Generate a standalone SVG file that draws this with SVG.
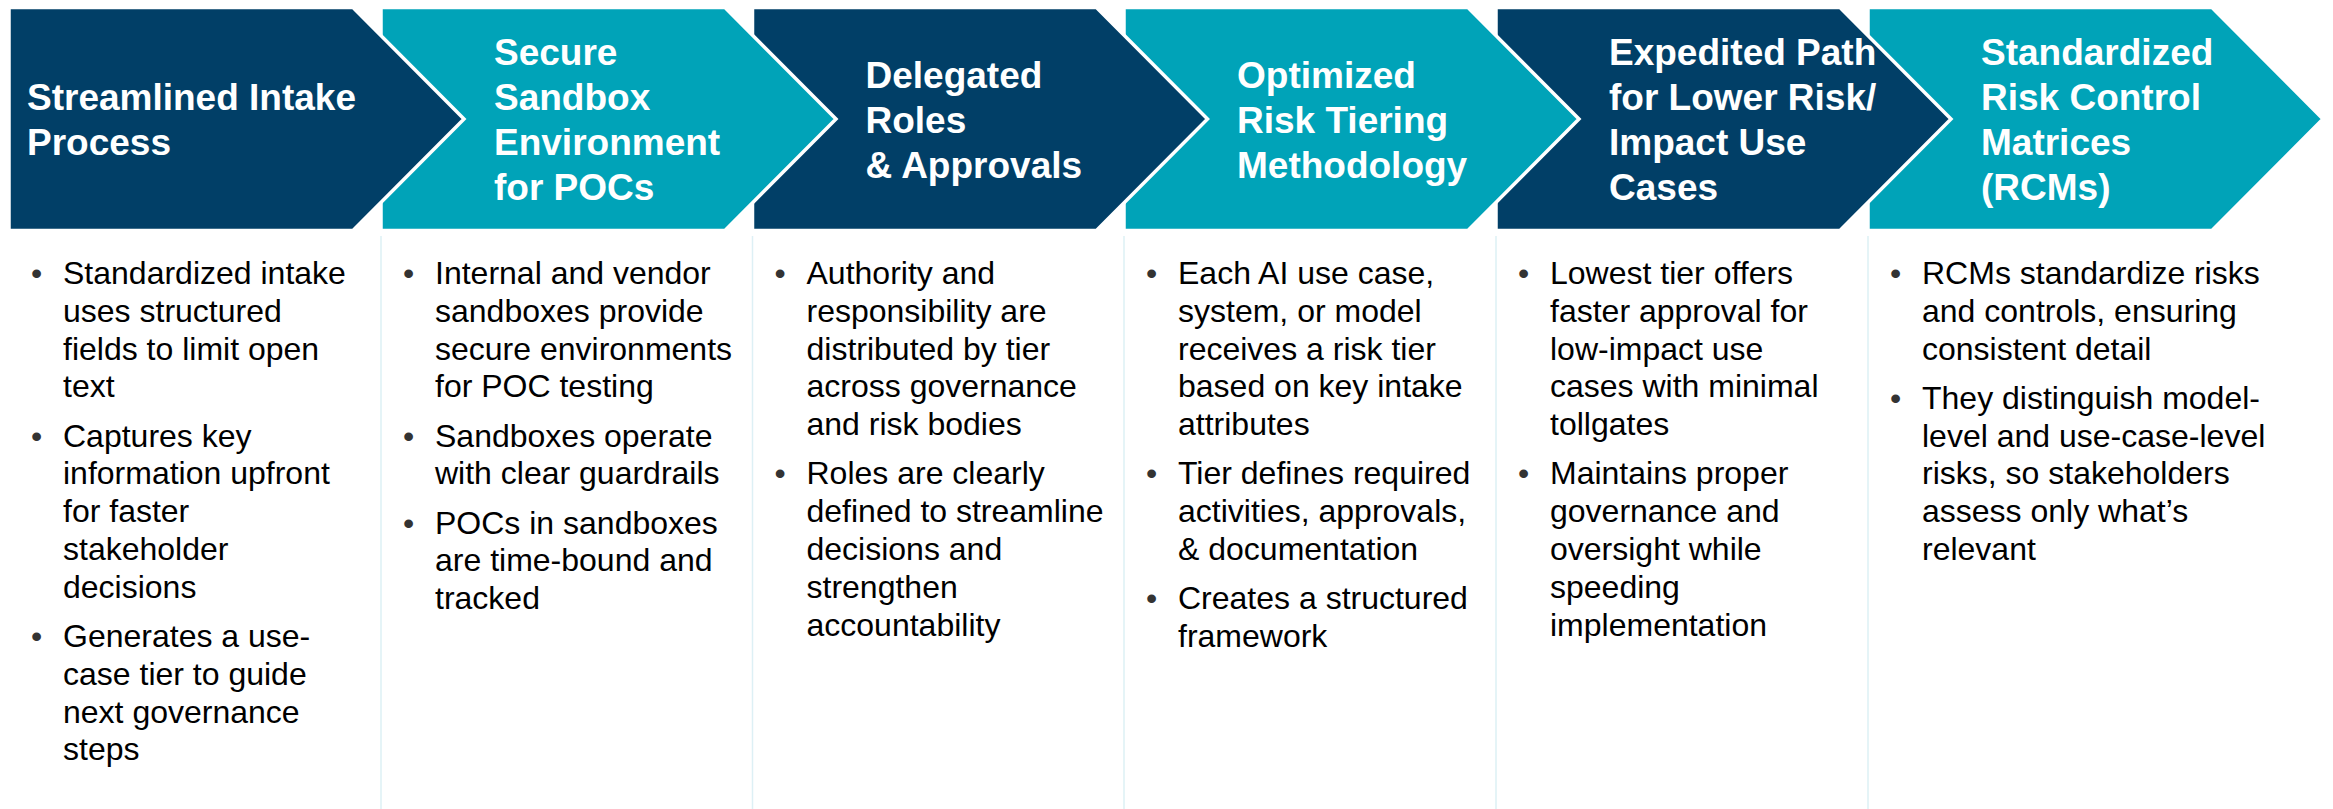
<svg xmlns="http://www.w3.org/2000/svg" width="2333" height="809" viewBox="0 0 2333 809">
  <style>
    .navy { fill: #013F67; stroke: #FFFFFF; stroke-width: 3.5; stroke-linejoin: miter; }
    .teal { fill: #00A3B8; stroke: #FFFFFF; stroke-width: 3.5; stroke-linejoin: miter; }
    .title { font-family: "Liberation Sans", Arial, sans-serif; font-weight: bold; font-size: 37px; fill: #FFFFFF; }
    .body { font-family: "Liberation Sans", Arial, sans-serif; font-size: 32px; fill: #000000; }
    .dot { font-family: "Liberation Sans", Arial, sans-serif; font-size: 32px; fill: #333333; }
    .divider { stroke: #DDF0F5; stroke-width: 1.5; fill: none; }
  </style>
  <rect width="2333" height="809" fill="#FFFFFF"/>

  <!-- column separators -->
  <g id="connectors">
    <line class="divider" x1="381" y1="236" x2="381" y2="809"/>
    <line class="divider" x1="752.5" y1="236" x2="752.5" y2="809"/>
    <line class="divider" x1="1124" y1="236" x2="1124" y2="809"/>
    <line class="divider" x1="1496" y1="236" x2="1496" y2="809"/>
    <line class="divider" x1="1868" y1="236" x2="1868" y2="809"/>
  </g>

  <!-- step arrows, painted right to left so each overlaps the next -->
  <g id="step6">
    <polygon class="teal" points="1868,7.5 2212,7.5 2323,119 2212,230.5 1868,230.5"/>
    <text class="title"><tspan x="1981" y="65">Standardized</tspan><tspan x="1981" y="110">Risk Control</tspan><tspan x="1981" y="155">Matrices</tspan><tspan x="1981" y="200">(RCMs)</tspan></text>
  </g>
  <g id="step5">
    <polygon class="navy" points="1496,7.5 1840,7.5 1951,119 1840,230.5 1496,230.5"/>
    <text class="title"><tspan x="1609" y="65">Expedited Path</tspan><tspan x="1609" y="110">for Lower Risk/</tspan><tspan x="1609" y="155">Impact Use</tspan><tspan x="1609" y="200">Cases</tspan></text>
  </g>
  <g id="step4">
    <polygon class="teal" points="1124,7.5 1468,7.5 1579,119 1468,230.5 1124,230.5"/>
    <text class="title"><tspan x="1237" y="87.5">Optimized</tspan><tspan x="1237" y="132.5">Risk Tiering</tspan><tspan x="1237" y="177.5">Methodology</tspan></text>
  </g>
  <g id="step3">
    <polygon class="navy" points="752.5,7.5 1096.5,7.5 1207.5,119 1096.5,230.5 752.5,230.5"/>
    <text class="title"><tspan x="865.5" y="87.5">Delegated</tspan><tspan x="865.5" y="132.5">Roles</tspan><tspan x="865.5" y="177.5">&amp; Approvals</tspan></text>
  </g>
  <g id="step2">
    <polygon class="teal" points="381,7.5 725,7.5 836,119 725,230.5 381,230.5"/>
    <text class="title"><tspan x="494" y="65">Secure</tspan><tspan x="494" y="110">Sandbox</tspan><tspan x="494" y="155">Environment</tspan><tspan x="494" y="200">for POCs</tspan></text>
  </g>
  <g id="step1">
    <polygon class="navy" points="9,7.5 353,7.5 464,119 353,230.5 9,230.5"/>
    <text class="title"><tspan x="27" y="110">Streamlined Intake</tspan><tspan x="27" y="155">Process</tspan></text>
  </g>

  <!-- bullet columns: 37.8px leading, 11.4px extra between items -->
  <g id="details1">
    <text class="dot"><tspan x="31" y="284">•</tspan><tspan x="31" y="446.6">•</tspan><tspan x="31" y="647">•</tspan></text>
    <text class="body">
      <tspan x="63" y="284">Standardized intake</tspan><tspan x="63" y="321.8">uses structured</tspan><tspan x="63" y="359.6">fields to limit open</tspan><tspan x="63" y="397.4">text</tspan>
      <tspan x="63" y="446.6">Captures key</tspan><tspan x="63" y="484.4">information upfront</tspan><tspan x="63" y="522.2">for faster</tspan><tspan x="63" y="560">stakeholder</tspan><tspan x="63" y="597.8">decisions</tspan>
      <tspan x="63" y="647">Generates a use-</tspan><tspan x="63" y="684.8">case tier to guide</tspan><tspan x="63" y="722.6">next governance</tspan><tspan x="63" y="760.4">steps</tspan>
    </text>
  </g>
  <g id="details2">
    <text class="dot"><tspan x="403" y="284">•</tspan><tspan x="403" y="446.6">•</tspan><tspan x="403" y="533.6">•</tspan></text>
    <text class="body">
      <tspan x="435" y="284">Internal and vendor</tspan><tspan x="435" y="321.8">sandboxes provide</tspan><tspan x="435" y="359.6">secure environments</tspan><tspan x="435" y="397.4">for POC testing</tspan>
      <tspan x="435" y="446.6">Sandboxes operate</tspan><tspan x="435" y="484.4">with clear guardrails</tspan>
      <tspan x="435" y="533.6">POCs in sandboxes</tspan><tspan x="435" y="571.4">are time-bound and</tspan><tspan x="435" y="609.2">tracked</tspan>
    </text>
  </g>
  <g id="details3">
    <text class="dot"><tspan x="774.5" y="284">•</tspan><tspan x="774.5" y="484.4">•</tspan></text>
    <text class="body">
      <tspan x="806.5" y="284">Authority and</tspan><tspan x="806.5" y="321.8">responsibility are</tspan><tspan x="806.5" y="359.6">distributed by tier</tspan><tspan x="806.5" y="397.4">across governance</tspan><tspan x="806.5" y="435.2">and risk bodies</tspan>
      <tspan x="806.5" y="484.4">Roles are clearly</tspan><tspan x="806.5" y="522.2">defined to streamline</tspan><tspan x="806.5" y="560">decisions and</tspan><tspan x="806.5" y="597.8">strengthen</tspan><tspan x="806.5" y="635.6">accountability</tspan>
    </text>
  </g>
  <g id="details4">
    <text class="dot"><tspan x="1146" y="284">•</tspan><tspan x="1146" y="484.4">•</tspan><tspan x="1146" y="609.2">•</tspan></text>
    <text class="body">
      <tspan x="1178" y="284">Each AI use case,</tspan><tspan x="1178" y="321.8">system, or model</tspan><tspan x="1178" y="359.6">receives a risk tier</tspan><tspan x="1178" y="397.4">based on key intake</tspan><tspan x="1178" y="435.2">attributes</tspan>
      <tspan x="1178" y="484.4">Tier defines required</tspan><tspan x="1178" y="522.2">activities, approvals,</tspan><tspan x="1178" y="560">&amp; documentation</tspan>
      <tspan x="1178" y="609.2">Creates a structured</tspan><tspan x="1178" y="647">framework</tspan>
    </text>
  </g>
  <g id="details5">
    <text class="dot"><tspan x="1518" y="284">•</tspan><tspan x="1518" y="484.4">•</tspan></text>
    <text class="body">
      <tspan x="1550" y="284">Lowest tier offers</tspan><tspan x="1550" y="321.8">faster approval for</tspan><tspan x="1550" y="359.6">low-impact use</tspan><tspan x="1550" y="397.4">cases with minimal</tspan><tspan x="1550" y="435.2">tollgates</tspan>
      <tspan x="1550" y="484.4">Maintains proper</tspan><tspan x="1550" y="522.2">governance and</tspan><tspan x="1550" y="560">oversight while</tspan><tspan x="1550" y="597.8">speeding</tspan><tspan x="1550" y="635.6">implementation</tspan>
    </text>
  </g>
  <g id="details6">
    <text class="dot"><tspan x="1890" y="284">•</tspan><tspan x="1890" y="408.8">•</tspan></text>
    <text class="body">
      <tspan x="1922" y="284">RCMs standardize risks</tspan><tspan x="1922" y="321.8">and controls, ensuring</tspan><tspan x="1922" y="359.6">consistent detail</tspan>
      <tspan x="1922" y="408.8">They distinguish model-</tspan><tspan x="1922" y="446.6">level and use-case-level</tspan><tspan x="1922" y="484.4">risks, so stakeholders</tspan><tspan x="1922" y="522.2">assess only what’s</tspan><tspan x="1922" y="560">relevant</tspan>
    </text>
  </g>
</svg>
